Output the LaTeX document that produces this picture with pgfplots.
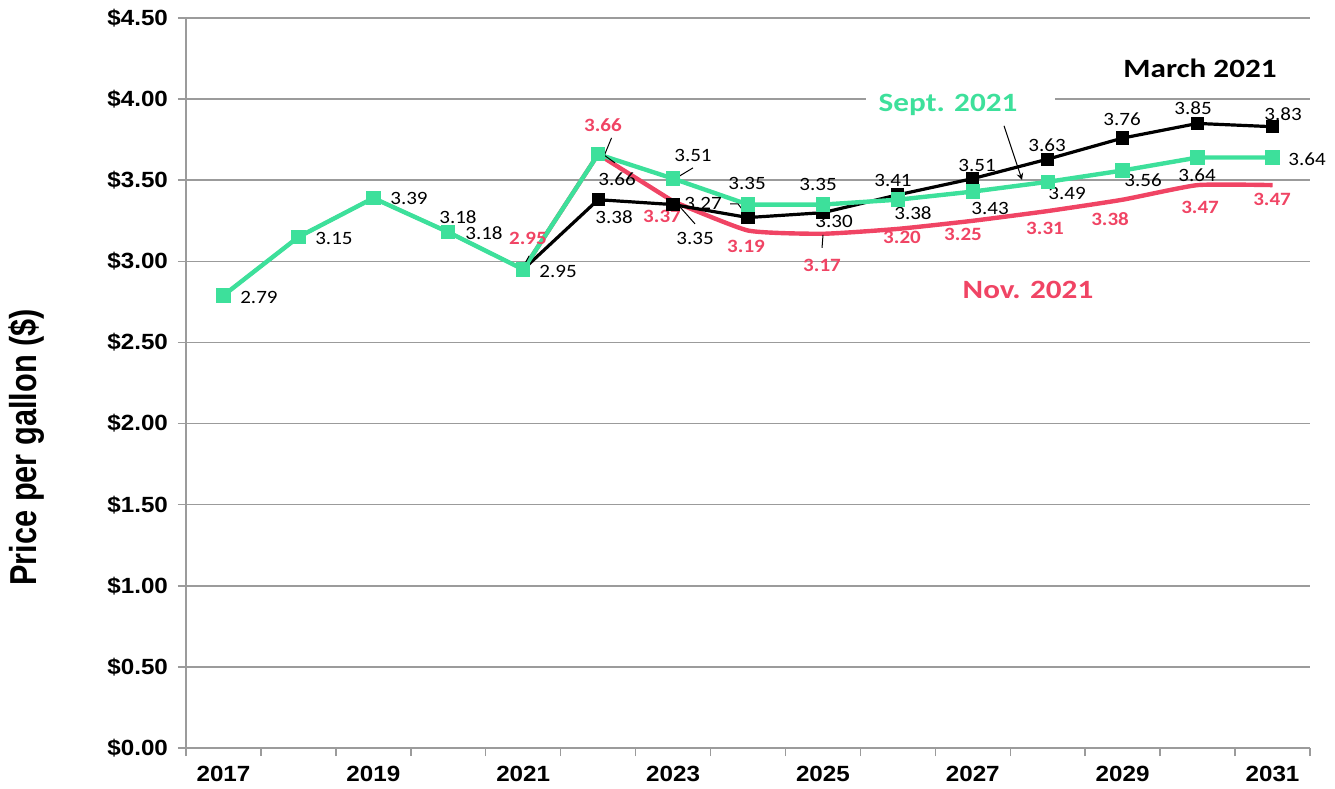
\documentclass[border=0pt]{standalone}
\usepackage{pgfplots}
\pgfplotsset{compat=1.18}
\usepackage{fontspec}
\setmainfont{Carlito}
\newfontfamily\tickfont[FakeStretch=1.1]{Liberation Sans}
\newfontfamily\ylabfont[FakeStretch=0.82]{Liberation Sans}
\newfontfamily\lblfont[FakeStretch=1.12]{Carlito}
\newfontfamily\bigfont[FakeStretch=1.18]{Carlito}
\definecolor{sept}{RGB}{61,224,155}
\definecolor{nov}{RGB}{240,68,100}
\definecolor{gridgray}{RGB}{155,155,155}
\newcommand{\lb}[3]{\node[font=\lblfont\fontsize{9.4}{9.4}\selectfont, text=black, inner sep=0pt] at (axis cs:#1,#2) {#3};}
\newcommand{\lr}[3]{\node[font=\lblfont\bfseries\fontsize{9.4}{9.4}\selectfont, text=nov, inner sep=0pt] at (axis cs:#1,#2) {#3};}
\begin{document}
\begin{tikzpicture}
\begin{axis}[
  at={(0,0)}, anchor=south west,
  scale only axis, width=562pt, height=365pt,
  xmin=-0.5, xmax=14.5, ymin=0, ymax=4.5,
  clip=false,
  axis lines*=left,
  axis line style={draw=gridgray, line width=0.75pt, -},
  tick style={draw=gridgray, line width=0.75pt},
  tick align=outside,
  major tick length=4pt,
  xtick={-0.5,0.5,...,14.5},
  xticklabels={},
  extra x ticks={0,2,4,6,8,10,12,14},
  extra x tick labels={2017,2019,2021,2023,2025,2027,2029,2031},
  extra x tick style={major tick length=0pt},
  xticklabel style={font=\tickfont\bfseries\fontsize{11}{11}\selectfont, text=black, yshift=-5.5pt},
  ytick={0,0.5,1,1.5,2,2.5,3,3.5,4,4.5},
  yticklabels={\$0.00,\$0.50,\$1.00,\$1.50,\$2.00,\$2.50,\$3.00,\$3.50,\$4.00,\$4.50},
  yticklabel style={font=\tickfont\bfseries\fontsize{11}{11}\selectfont, text=black, xshift=-1.5pt},
  ymajorgrids,
  grid style={draw=gridgray, line width=0.75pt},
  ylabel={Price per gallon (\$)},
  ylabel style={font=\ylabfont\bfseries\fontsize{18.75}{20}\selectfont, at={(axis description cs:-0.1415,0.412)}, anchor=center},
]
% Nov. 2021
\addplot[nov, line width=2.2pt, no marks] coordinates {
 (4,2.95) (5,3.66) (6,3.37)};
\addplot[nov, line width=2.2pt, smooth, tension=0.3, no marks] coordinates {
 (6,3.37) (7,3.19) (8,3.17) (9,3.20) (10,3.25) (11,3.31) (12,3.38) (13,3.47) (14,3.47)};
% March 2021
\addplot[black, line width=1.6pt, mark=square*, mark size=2.5pt, mark options={solid}] coordinates {
 (0,2.79) (1,3.15) (2,3.39) (3,3.18) (4,2.95) (5,3.38) (6,3.35) (7,3.27) (8,3.30) (9,3.41) (10,3.51) (11,3.63) (12,3.76) (13,3.85) (14,3.83)};
% Sept. 2021
\addplot[sept, line width=2.2pt, mark=square*, mark size=2.5pt, mark options={solid}] coordinates {
 (0,2.79) (1,3.15) (2,3.39) (3,3.18) (4,2.95) (5,3.66) (6,3.51) (7,3.35) (8,3.35) (9,3.38) (10,3.43) (11,3.49) (12,3.56) (13,3.64) (14,3.64)};

% leader lines
\draw[black, line width=0.5pt] (axis cs:3.998,2.965) -- (axis cs:4.078,3.033);
\draw[black, line width=0.5pt] (axis cs:5.085,3.656) -- (axis cs:5.179,3.761);
\draw[black, line width=0.5pt] (axis cs:5.039,3.668) -- (axis cs:5.225,3.607);
\draw[black, line width=0.5pt] (axis cs:6.000,3.502) -- (axis cs:6.266,3.576);
\draw[black, line width=0.5pt] (axis cs:6.093,3.335) -- (axis cs:6.293,3.231);
\draw[black, line width=0.5pt] (axis cs:6.760,3.354) -- (axis cs:6.867,3.354) -- (axis cs:6.960,3.298);
\draw[black, line width=0.5pt] (axis cs:8.001,3.163) -- (axis cs:7.988,3.083);

% data labels (black)
\lb{0.474}{2.780}{2.79}
\lb{1.475}{3.144}{3.15}
\lb{2.476}{3.385}{3.39}
\lb{3.130}{3.274}{3.18}
\lb{3.477}{3.175}{3.18}
\lb{4.465}{2.935}{2.95}
\lb{5.252}{3.508}{3.66}
\lb{5.212}{3.274}{3.38}
\lb{6.266}{3.650}{3.51}
\lb{6.293}{3.144}{3.35}
\lb{6.400}{3.354}{3.27}
\lb{6.987}{3.477}{3.35}
\lb{7.935}{3.471}{3.35}
\lb{8.148}{3.243}{3.30}
\lb{8.935}{3.496}{3.41}
\lb{9.202}{3.298}{3.38}
\lb{10.057}{3.594}{3.51}
\lb{10.230}{3.323}{3.43}
\lb{10.991}{3.718}{3.63}
\lb{11.258}{3.416}{3.49}
\lb{11.992}{3.878}{3.76}
\lb{12.272}{3.502}{3.56}
\lb{12.939}{3.946}{3.85}
\lb{12.993}{3.533}{3.64}
\lb{14.140}{3.909}{3.83}
\lb{14.461}{3.631}{3.64}
% data labels (red)
\lr{4.064}{3.144}{2.95}
\lr{5.065}{3.841}{3.66}
\lr{5.853}{3.274}{3.37}
\lr{6.974}{3.095}{3.19}
\lr{7.988}{2.978}{3.17}
\lr{9.056}{3.150}{3.20}
\lr{9.870}{3.163}{3.25}
\lr{10.964}{3.200}{3.31}
\lr{11.832}{3.261}{3.38}
\lr{13.033}{3.335}{3.47}
\lr{13.994}{3.379}{3.47}

% series names
\node[fill=white, minimum width=94.5pt, minimum height=13pt, inner sep=0pt] at (axis cs:9.836,3.985) {};
\node[font=\bigfont\bfseries\fontsize{13.2}{13.2}\selectfont, text=sept, inner sep=0pt] at (axis cs:9.67,3.964) {Sept. 2021};
\node[font=\bigfont\bfseries\fontsize{13.2}{13.2}\selectfont, text=black, inner sep=0pt] at (axis cs:13.033,4.192) {March 2021};
\node[font=\bigfont\bfseries\fontsize{13.2}{13.2}\selectfont, text=nov, inner sep=0pt] at (axis cs:10.737,2.824) {Nov. 2021};
\draw[black, line width=0.5pt, -stealth] (axis cs:10.417,3.835) -- (axis cs:10.657,3.502);
\end{axis}
\path[use as bounding box] (-93pt,-19.5pt) rectangle (574.5pt,374pt);
\end{tikzpicture}
\end{document}
